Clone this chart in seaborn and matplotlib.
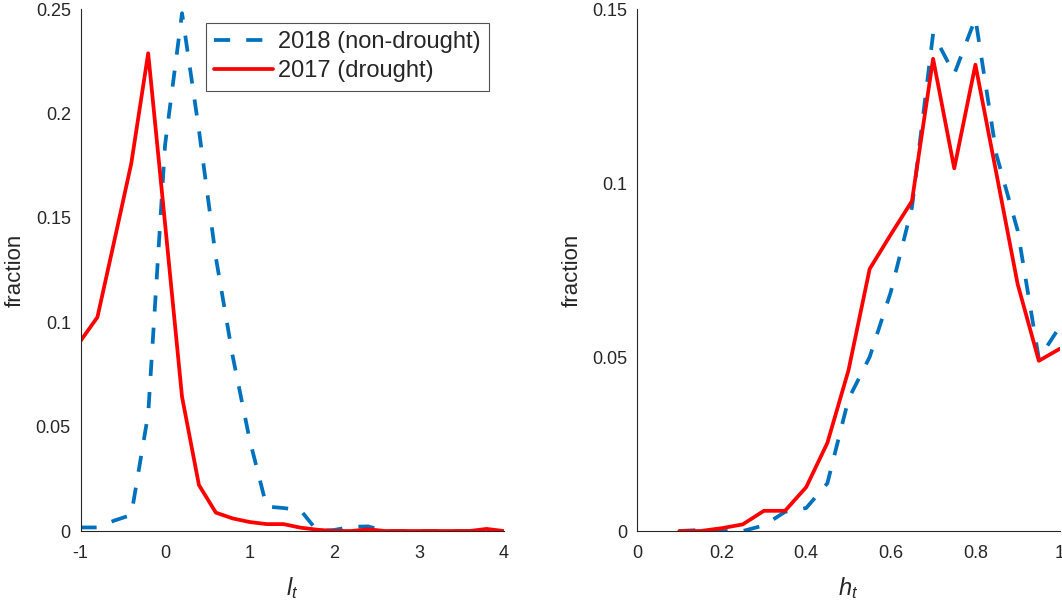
import numpy as np
import pandas as pd
import seaborn as sns
import matplotlib.pyplot as plt
from matplotlib.ticker import FixedLocator, FuncFormatter

# left panel: l_t distribution
l_bins = [-1.0, -0.8, -0.6, -0.4, -0.2, 0.0, 0.2, 0.4, 0.6, 0.8, 1.0, 1.2, 1.4,
          1.6, 1.8, 2.0, 2.2, 2.4, 2.6, 2.8, 3.0, 3.2, 3.4, 3.6, 3.8, 4.0]
l_2018 = [0.0017, 0.0017, 0.005, 0.0077, 0.056, 0.185, 0.248, 0.192, 0.131, 0.0835,
          0.0436, 0.0117, 0.011, 0.010, 0.0, 0.0005, 0.002, 0.0022, 0.0, 0.0,
          0.0, 0.0, 0.0, 0.0, 0.0, 0.0]
l_2017 = [0.091, 0.1024, 0.139, 0.176, 0.2288, 0.147, 0.0643, 0.022, 0.0088, 0.006,
          0.0043, 0.0033, 0.0033, 0.0016, 0.0006, 0.0, 0.0, 0.0008, 0.0, 0.0,
          0.0, 0.0, 0.0, 0.0, 0.001, 0.0]

# right panel: h_t distribution
h_bins = [0.1, 0.15, 0.2, 0.25, 0.3, 0.35, 0.4, 0.45, 0.5, 0.55, 0.6, 0.65, 0.7,
          0.75, 0.8, 0.85, 0.9, 0.95, 1.0]
h_2018 = [0.0, 0.0003, 0.0, 0.0, 0.0016, 0.0055, 0.0066, 0.0137, 0.0379, 0.05,
          0.0687, 0.093, 0.1429, 0.1313, 0.1473, 0.108, 0.0863, 0.0495, 0.0588]
h_2017 = [0.0, 0.0, 0.0008, 0.0019, 0.0058, 0.0058, 0.0126, 0.0253, 0.0462, 0.0753,
          0.0852, 0.0948, 0.1357, 0.1042, 0.134, 0.1025, 0.0709, 0.0489, 0.0524]

labels = ["2018 (non-drought)", "2017 (drought)"]

sns.set_style("white")
plt.rcParams["font.family"] = ["Liberation Sans", "DejaVu Sans"]
plt.rcParams["axes.unicode_minus"] = False
plt.rcParams["mathtext.fontset"] = "custom"
plt.rcParams["mathtext.it"] = "Liberation Sans:italic"
plt.rcParams["mathtext.rm"] = "Liberation Sans"
plt.rcParams["xtick.direction"] = "in"
plt.rcParams["ytick.direction"] = "in"

blue = "#0072BD"
red = "#FF0000"
lw = 2.7
dash = (0, (4.3, 4.3))
grey = "#262626"

fig = plt.figure(figsize=(10.62, 6.02), dpi=100)
W, H = 1062, 602
ax1 = fig.add_axes([80.5 / W, (H - 531) / H, 423 / W, 522 / H])
ax2 = fig.add_axes([637 / W, (H - 531) / H, 423 / W, 522 / H])

left = pd.DataFrame({"x": l_bins, "y18": l_2018, "y17": l_2017})
right = pd.DataFrame({"x": h_bins, "y18": h_2018, "y17": h_2017})

for ax, df in [(ax1, left), (ax2, right)]:
    sns.lineplot(data=df, x="x", y="y18", ax=ax, color=blue, lw=lw, linestyle=dash,
                 label=labels[0], legend=False)
    sns.lineplot(data=df, x="x", y="y17", ax=ax, color=red, lw=lw,
                 label=labels[1], legend=False)

fmt = FuncFormatter(lambda v, p: f"{v:g}")

ax1.set_xlim(-1, 4)
ax1.set_ylim(0, 0.25)
ax1.xaxis.set_major_locator(FixedLocator([-1, 0, 1, 2, 3, 4]))
ax1.yaxis.set_major_locator(FixedLocator([0, 0.05, 0.1, 0.15, 0.2, 0.25]))
ax1.set_xlabel(r"$l_t$", fontsize=17)

ax2.set_xlim(0, 1)
ax2.set_ylim(0, 0.15)
ax2.xaxis.set_major_locator(FixedLocator([0, 0.2, 0.4, 0.6, 0.8, 1]))
ax2.yaxis.set_major_locator(FixedLocator([0, 0.05, 0.1, 0.15]))
ax2.set_xlabel(r"$h_t$", fontsize=17)

for ax in (ax1, ax2):
    ax.xaxis.set_major_formatter(fmt)
    ax.yaxis.set_major_formatter(fmt)
    ax.set_ylabel("fraction", fontsize=16)
    ax.tick_params(labelsize=13, length=5, width=0.8, color=grey,
                   labelcolor=grey)
    ax.tick_params(axis="x", pad=10)
    ax.tick_params(axis="y", pad=7)
    for s in ("top", "right"):
        ax.spines[s].set_visible(False)
    for s in ("left", "bottom"):
        ax.spines[s].set_color(grey)
        ax.spines[s].set_linewidth(0.8)
    ax.xaxis.label.set_color(grey)
    ax.yaxis.label.set_color(grey)

ax1.yaxis.set_label_coords(-54.5 / 423, 0.5)
ax2.yaxis.set_label_coords(-54.5 / 423, 0.5)
ax1.xaxis.set_label_coords(0.5, -0.085)
ax2.xaxis.set_label_coords(0.5, -0.085)

leg = ax1.legend(loc="upper left", bbox_to_anchor=(125.5 / 423, 1 - 14 / 522),
                 fontsize=17, frameon=True, fancybox=False, handlelength=2.5,
                 handletextpad=0.2, borderpad=0.35, labelspacing=0.3,
                 borderaxespad=0)
leg.get_frame().set_edgecolor(grey)
leg.get_frame().set_linewidth(0.8)

fig.savefig("out.png", dpi=100, facecolor="white")
